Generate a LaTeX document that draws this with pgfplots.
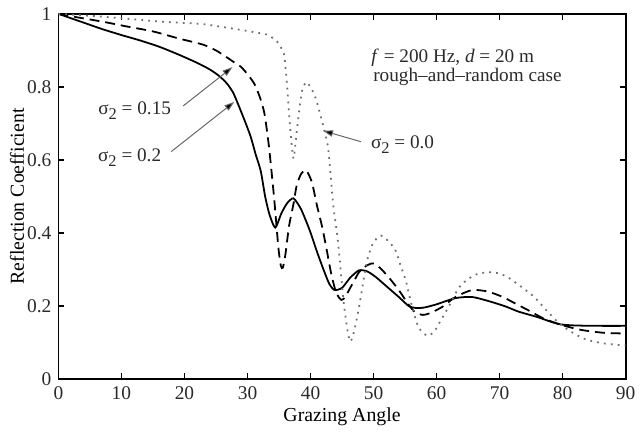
\documentclass[border=0pt]{standalone}
\usepackage{fontspec}
\setmainfont{Liberation Serif}
\usepackage{pgfplots}
\pgfplotsset{compat=1.18}
\usetikzlibrary{arrows.meta}

\definecolor{txt}{HTML}{2A2A2A}
\definecolor{dotgray}{HTML}{707070}
\newcommand{\sig}[1]{σ\raisebox{-0.6ex}{\fontsize{8.3}{9}\selectfont 2} = #1}

\begin{document}
\begin{tikzpicture}
\begin{axis}[
    scale only axis, width=286.5pt, height=184.5pt,
    xmin=0, xmax=90, ymin=0, ymax=1,
    xtick={0,10,...,90}, ytick={0,0.2,0.4,0.6,0.8,1},
    /pgf/number format/assume math mode=true,
    yticklabel style={/pgf/number format/fixed},
    tick label style={font=\fontsize{9.8}{11}\selectfont, text=txt},
    label style={font=\fontsize{11}{13}\selectfont, text=txt},
    xlabel={Grazing Angle}, ylabel={Reflection Coefficient},
    every axis x label/.style={at={(axis description cs:0.5,-0.103)}, anchor=center},
    every axis y label/.style={at={(axis description cs:-0.073,0.5)}, rotate=90, anchor=center},
    axis line style={line width=0.9pt, black},
    major tick length=3pt,
    every tick/.style={line width=0.7pt, black},
    clip=true,
]
% sigma_2 = 0.2 (solid)
\addplot[black, line width=0.9pt, smooth, tension=0.4] coordinates {
(0,1.0) (2,0.988) (4,0.976) (7,0.958) (10,0.942) (13,0.927) (16,0.91) (19,0.889)
(22,0.866) (24,0.848) (25.5,0.83) (26.7,0.81) (27.7,0.785) (28.5,0.753)
(29.5,0.71) (30.5,0.664) (31.3,0.615) (32.1,0.57) (32.8,0.5) (33.5,0.45) (34.4,0.415)
(35.4,0.455) (36.3,0.482) (37.3,0.495) (38.5,0.465) (39.9,0.406) (41,0.35) (42.1,0.298)
(43,0.26) (43.8,0.244) (45,0.25) (46.3,0.278) (47.7,0.298) (49,0.295) (50.4,0.279)
(52,0.255) (54,0.225) (55.6,0.2) (56.7,0.195) (58,0.196) (60,0.205) (63,0.222)
(65.6,0.225) (68,0.215) (70.8,0.2) (73,0.185) (76,0.17) (78,0.158) (79.7,0.15)
(82,0.147) (86,0.146) (90,0.146)};
% sigma_2 = 0.15 (dashed)
\addplot[black, line width=0.9pt, dash pattern=on 5pt off 3pt, smooth, tension=0.4] coordinates {
(0,1.0) (2.5,0.992) (7.2,0.978) (11,0.965) (15,0.952) (19,0.933) (22.9,0.916) (25,0.9)
(26.8,0.88) (28,0.866) (28.9,0.856) (30,0.835) (31.1,0.808) (32,0.77) (32.7,0.726)
(33.4,0.637) (34.2,0.5) (34.9,0.36) (35.3,0.31) (35.6,0.305) (36.0,0.34) (36.6,0.42)
(37.3,0.48) (37.8,0.53) (38.5,0.562) (39.3,0.572) (40.2,0.54) (41,0.477) (41.8,0.42)
(42.5,0.36) (43.3,0.287) (44.1,0.235) (44.9,0.217) (45.5,0.225) (46.2,0.247) (47,0.272)
(47.7,0.293) (48.8,0.31) (49.9,0.317) (51,0.305) (52.4,0.279) (54,0.244) (55.6,0.203)
(56.6,0.183) (57.8,0.176) (59,0.181) (60.9,0.198) (63,0.225) (65.6,0.244) (68.1,0.24)
(70.5,0.225) (72.5,0.207) (74.4,0.19) (77,0.166) (79.7,0.149) (82.9,0.135) (86.5,0.127)
(90,0.125)};
% sigma_2 = 0.0 (dotted)
\addplot[dotgray, line width=0.9pt, dash pattern=on 0.9pt off 2.6pt, smooth, tension=0.4] coordinates {
(0,1.0) (3,0.997) (7.2,0.992) (12,0.985) (16,0.979) (19,0.976) (22.9,0.972) (26.8,0.962)
(30,0.953) (33.1,0.943) (34.7,0.924) (35.4,0.905) (35.8,0.889) (36.1,0.84) (36.3,0.8)
(36.8,0.681) (37.3,0.604) (37.8,0.677) (38.6,0.785) (39.4,0.813) (40.7,0.775) (42.0,0.694)
(42.8,0.631) (43.6,0.477) (44.2,0.4) (44.6,0.333) (45.2,0.22) (45.8,0.14) (46.3,0.103)
(46.9,0.13) (47.7,0.198) (48.4,0.27) (49.1,0.333) (50,0.375) (51.2,0.393) (52.5,0.375)
(53.5,0.352) (54.3,0.31) (55.1,0.271) (55.8,0.22) (56.4,0.18) (57.2,0.14) (58.5,0.119)
(59.6,0.13) (60.8,0.165) (61.9,0.198) (63,0.235) (64,0.26) (66,0.285) (68.1,0.293)
(69.8,0.29) (71.3,0.279) (73.5,0.252) (75.5,0.225) (77.6,0.185) (79.7,0.149) (81.8,0.125)
(83.8,0.108) (86.5,0.098) (90,0.092)};

% annotations
\tikzset{ann/.style={text=txt, font=\fontsize{9.7}{11}\selectfont}}
\node[ann, anchor=west, inner sep=0pt] at (axis cs:49.6,0.881)
  {\textit{f} = 200 Hz, \textit{d} = 20 m};
\node[ann, anchor=west, inner sep=0pt] at (axis cs:49.9,0.827)
  {rough--and--random case};
\node[ann] at (axis cs:12.1,0.736) {\sig{0.15}};
\node[ann] at (axis cs:11.3,0.606) {\sig{0.2}};
\node[ann] at (axis cs:54.6,0.642) {\sig{0.0}};
\draw[gray!80!black, line width=0.5pt, -{Triangle[length=5pt,width=3.2pt,fill=black]}]
  (axis cs:19.8,0.748) -- (axis cs:27.6,0.854);
\draw[gray!80!black, line width=0.5pt, -{Triangle[length=5pt,width=3.2pt,fill=black]}]
  (axis cs:17.9,0.623) -- (axis cs:27.9,0.759);
\draw[gray!80!black, line width=0.5pt, -{Triangle[length=5pt,width=3.2pt,fill=black]}]
  (axis cs:48.0,0.65) -- (axis cs:42.0,0.68);
\end{axis}
\path (current axis.south west) ++(-29.5pt,-26.5pt) rectangle ([shift={(5pt,7pt)}]current axis.north east);
\end{tikzpicture}
\end{document}
